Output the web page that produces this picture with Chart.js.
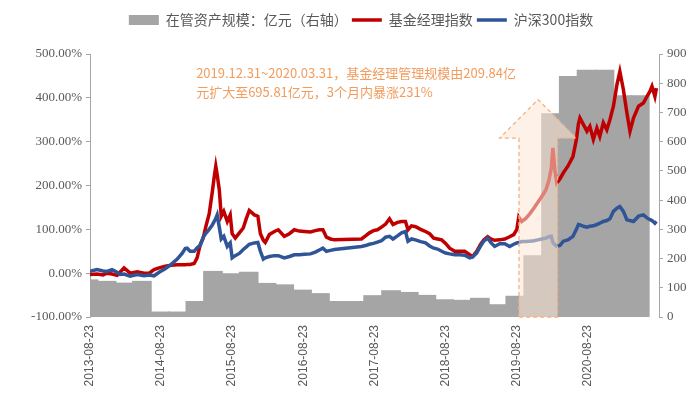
<!DOCTYPE html>
<html>
<head>
<meta charset="utf-8">
<script src="https://cdn.jsdelivr.net/npm/chart.js@4.4.0/dist/chart.umd.min.js"></script>
<style>
  html, body { margin: 0; padding: 0; background: #fff; }
</style>
</head>
<body>
<canvas id="myChart" width="700" height="397"></canvas>
<script>
// x axis tick labels (one per year)
const tickLabels = ['2013-08-23', '2014-08-23', '2015-08-23', '2016-08-23',
  '2017-08-23', '2018-08-23', '2019-08-23', '2020-08-23'];
const axisEnd = '2021-08-23';

// assets under management, 亿元, one bar per quarter (quarter end date)
const quarterEnds = ['2013-09-30', '2013-12-31', '2014-03-31', '2014-06-30', '2014-09-30', '2014-12-31',
  '2015-03-31', '2015-06-30', '2015-09-30', '2015-12-31', '2016-03-31', '2016-06-30', '2016-09-30',
  '2016-12-31', '2017-03-31', '2017-06-30', '2017-09-30', '2017-12-31', '2018-03-31', '2018-06-30',
  '2018-09-30', '2018-12-31', '2019-03-31', '2019-06-30', '2019-09-30', '2019-12-31', '2020-03-31',
  '2020-06-30', '2020-09-30', '2020-12-31', '2021-03-31', '2021-06-30'];
const aumValues = [127, 122, 116, 122, 17, 17, 53, 156, 148, 153, 115, 110, 92, 80, 53, 53,
  73, 90, 84, 74, 59, 57, 64, 42, 71, 209.84, 695.81, 823, 844, 844, 757, 757];

// index lines, cumulative return in %
const lineDates = ['2013-08-23', '2013-09-28', '2013-10-29', '2013-11-18', '2013-12-14', '2014-01-09',
  '2014-01-24', '2014-02-14', '2014-03-17', '2014-04-22', '2014-05-28', '2014-06-23', '2014-07-18',
  '2014-08-13', '2014-09-13', '2014-10-14', '2014-11-14', '2014-12-09', '2014-12-25', '2015-01-04',
  '2015-01-19', '2015-02-09', '2015-02-24', '2015-03-12', '2015-03-27', '2015-04-12', '2015-04-27',
  '2015-05-13', '2015-05-23', '2015-05-31', '2015-06-07', '2015-06-18', '2015-06-28', '2015-07-11',
  '2015-07-29', '2015-08-13', '2015-08-23', '2015-09-08', '2015-09-29', '2015-10-19', '2015-11-04',
  '2015-11-19', '2015-12-15', '2016-01-02', '2016-01-15', '2016-01-30', '2016-02-09', '2016-03-01',
  '2016-03-27', '2016-04-16', '2016-05-17', '2016-06-12', '2016-07-07', '2016-08-02', '2016-08-28',
  '2016-09-28', '2016-10-23', '2016-11-13', '2016-12-01', '2016-12-19', '2017-01-09', '2017-01-29',
  '2017-06-17', '2017-07-08', '2017-07-28', '2017-08-18', '2017-09-07', '2017-09-28', '2017-10-19',
  '2017-11-08', '2017-11-26', '2017-12-19', '2018-01-09', '2018-01-29', '2018-02-11', '2018-03-01',
  '2018-03-22', '2018-04-17', '2018-05-12', '2018-06-02', '2018-06-23', '2018-07-13', '2018-08-03',
  '2018-08-23', '2018-09-13', '2018-10-09', '2018-11-03', '2018-11-29', '2018-12-25', '2019-01-09',
  '2019-01-30', '2019-02-19', '2019-03-07', '2019-03-27', '2019-04-12', '2019-05-02', '2019-05-28',
  '2019-06-23', '2019-07-18', '2019-08-08', '2019-08-24', '2019-09-03', '2019-09-18', '2019-10-09',
  '2019-10-29', '2019-11-19', '2019-12-10', '2019-12-30', '2020-01-20', '2020-02-04', '2020-02-17',
  '2020-02-25', '2020-03-06', '2020-03-16', '2020-04-01', '2020-04-19', '2020-05-12', '2020-06-07',
  '2020-06-25', '2020-07-05', '2020-07-13', '2020-07-31', '2020-08-18', '2020-09-02', '2020-09-20',
  '2020-10-08', '2020-10-23', '2020-11-10', '2020-11-28', '2020-12-14', '2021-01-01', '2021-01-19',
  '2021-02-03', '2021-02-21', '2021-03-11', '2021-03-27', '2021-04-14', '2021-05-10', '2021-06-04',
  '2021-06-22', '2021-07-08', '2021-07-18', '2021-08-02', '2021-08-10'];
const managerIndex = [-3, -2, -4, 0, -2, -5, 2, 12, 0, 3, 0, 0, 8, 12, 16, 18, 19, 19, 19, 20,
  20, 22, 35, 65, 80, 110, 135, 185, 220, 244, 225, 190, 130, 141, 118, 133, 90, 80, 92, 103,
  125, 143, 133, 130, 90, 75, 70, 88, 95, 99, 84, 90, 99, 96, 95, 94, 97, 99, 99, 82,
  78, 76, 78, 85, 92, 97, 99, 105, 112, 124, 111, 116, 118, 118, 99, 108, 106, 100, 95, 90,
  80, 78, 76, 68, 57, 50, 50, 50, 42, 38, 50, 66, 76, 83, 78, 75, 76, 78, 83, 88,
  100, 128, 118, 125, 135, 148, 162, 175, 190, 210, 240, 286, 236, 206, 215, 229, 244, 266, 305, 340,
  354, 339, 324, 335, 305, 331, 312, 343, 327, 350, 381, 430, 460, 419, 366, 324, 354, 381, 388, 403,
  415, 426, 403, 422];
const hs300Index = [4, 8, 5, 4, 8, 2, -3, -2, -7, -3, -6, -4, -6, 2, 10, 20, 32, 45, 56, 57,
  50, 50, 58, 63, 82, 92, 100, 110, 118, 125, 133, 105, 78, 84, 61, 69, 35, 40, 45, 54,
  60, 66, 69, 70, 50, 32, 35, 38, 40, 40, 35, 38, 42, 42, 43, 44, 48, 53, 57, 50,
  52, 54, 61, 63, 66, 68, 71, 74, 82, 84, 78, 85, 92, 95, 73, 78, 76, 72, 69, 62,
  57, 55, 50, 46, 44, 42, 42, 41, 35, 37, 46, 62, 73, 80, 70, 61, 67, 67, 61, 66,
  69, 70, 72, 72, 73, 74, 76, 78, 80, 83, 84, 70, 65, 61, 63, 73, 76, 84, 100, 111,
  110, 107, 105, 107, 108, 111, 114, 118, 120, 124, 141, 148, 152, 141, 122, 120, 118, 130, 133, 126,
  122, 120, 114, 118];

const noteLines = ['2019.12.31~2020.03.31，基金经理管理规模由209.84亿',
  '元扩大至695.81亿元，3个月内暴涨231%'];

const startMs = Date.UTC(2013, 7, 23);
function dayOf(s) {
  const [y, m, d] = s.split('-').map(Number);
  return (Date.UTC(y, m - 1, d) - startMs) / 864e5;
}
function quarterMid(s) {
  // middle of the quarter that ends on s
  const [y, m] = s.split('-').map(Number);
  const from = (Date.UTC(y, m - 3, 1) - startMs) / 864e5;
  return (from + dayOf(s) + 1) / 2;
}

const textColor = '#595959';
const axisColor = '#A6A6A6';

// arrow + note drawn on top of the data
const arrowNote = {
  id: 'arrowNote',
  afterDatasetsDraw(chart) {
    const { ctx, scales: { x, y } } = chart;
    const px = s => x.getPixelForValue(dayOf(s));
    const left = px('2019-09-04'), right = px('2020-03-20');
    const headL = px('2019-05-28'), headR = px('2020-06-25'), tip = px('2019-12-11');
    const base = y.getPixelForValue(-100), shoulder = y.getPixelForValue(308), top = y.getPixelForValue(396);
    ctx.save();
    ctx.beginPath();
    ctx.moveTo(left, base);
    ctx.lineTo(left, shoulder);
    ctx.lineTo(headL, shoulder);
    ctx.lineTo(tip, top);
    ctx.lineTo(headR, shoulder);
    ctx.lineTo(right, shoulder);
    ctx.lineTo(right, base);
    ctx.closePath();
    ctx.fillStyle = 'rgba(251,229,214,0.55)';
    ctx.fill();
    ctx.setLineDash([4, 3]);
    ctx.strokeStyle = '#F4B183';
    ctx.lineWidth = 1.3;
    ctx.stroke();
    ctx.setLineDash([]);

    ctx.font = '13px "Noto Sans CJK SC"';
    ctx.fillStyle = '#F29C5E';
    ctx.textBaseline = 'middle';
    ctx.textAlign = 'left';
    const tx = px('2015-02-19');
    ctx.fillText(noteLines[0], tx, y.getPixelForValue(457));
    ctx.fillText(noteLines[1], tx, y.getPixelForValue(414));
    ctx.restore();
  }
};

// shift legend a little right, like the original
const legendShift = {
  id: 'legendShift',
  afterLayout(chart) {
    chart.legend.left += 11;
    chart.legend.right += 11;
  }
};

const canvas = document.getElementById('myChart');

new Chart(canvas, {
  data: {
    datasets: [{
      type: 'bar',
      label: '在管资产规模：亿元（右轴）',
      data: quarterEnds.map((d, i) => ({ x: quarterMid(d), y: aumValues[i] })),
      backgroundColor: '#A5A5A5',
      borderWidth: 0,
      barPercentage: 1.06,
      categoryPercentage: 1,
      inflateAmount: 0.5,
      pointStyle: 'rect',
      yAxisID: 'y1',
      order: 3
    }, {
      type: 'line',
      label: '基金经理指数',
      data: lineDates.map((d, i) => ({ x: dayOf(d), y: managerIndex[i] })),
      borderColor: '#C00000',
      backgroundColor: '#C00000',
      borderWidth: 3.5,
      pointRadius: 0,
      pointStyle: 'line',
      tension: 0,
      yAxisID: 'y',
      order: 2
    }, {
      type: 'line',
      label: '沪深300指数',
      data: lineDates.map((d, i) => ({ x: dayOf(d), y: hs300Index[i] })),
      borderColor: '#2F5597',
      backgroundColor: '#2F5597',
      borderWidth: 3.5,
      pointRadius: 0,
      pointStyle: 'line',
      tension: 0,
      yAxisID: 'y',
      order: 1
    }]
  },
  options: {
    responsive: false,
    devicePixelRatio: 1,
    animation: false,
    layout: { padding: { top: 9, left: 0, right: 0, bottom: 0 } },
    plugins: {
      tooltip: { enabled: false },
      legend: {
        position: 'top',
        reverse: true,
        labels: {
          usePointStyle: true,
          pointStyleWidth: 30,
          boxHeight: 10,
          padding: 4,
          color: textColor,
          font: { family: '"Noto Sans CJK SC"', size: 14 }
        }
      }
    },
    scales: {
      x: {
        type: 'linear',
        offset: false,
        min: 0,
        max: dayOf(axisEnd),
        afterBuildTicks: (scale) => {
          scale.ticks = tickLabels.map(s => ({ value: dayOf(s) }));
        },
        afterFit: (scale) => { scale.height = 80; },
        grid: { display: false, drawTicks: false, offset: false },
        border: { display: false },
        ticks: {
          autoSkip: false,
          maxRotation: 90,
          minRotation: 90,
          padding: 8,
          color: textColor,
          font: { family: '"Liberation Sans"', size: 12 },
          callback: (v, i) => tickLabels[i]
        }
      },
      y: {
        position: 'left',
        min: -100,
        max: 500,
        afterFit: (scale) => { scale.width = 90; },
        grid: { drawOnChartArea: false, drawTicks: true, tickLength: 4, color: axisColor },
        border: { display: true, color: axisColor },
        ticks: {
          stepSize: 100,
          padding: 4,
          color: textColor,
          font: { family: '"Liberation Serif"', size: 13 },
          callback: (v) => v.toFixed(2) + '%'
        }
      },
      y1: {
        position: 'right',
        min: 0,
        max: 900,
        afterFit: (scale) => { scale.width = 41; },
        grid: { drawOnChartArea: false, drawTicks: true, tickLength: 4, color: axisColor },
        border: { display: true, color: axisColor },
        ticks: {
          stepSize: 100,
          padding: 4,
          color: textColor,
          font: { family: '"Liberation Serif"', size: 13 }
        }
      }
    }
  },
  plugins: [arrowNote, legendShift, {
    id: 'legendHeight',
    beforeInit(chart) {
      const fit = chart.legend.fit;
      chart.legend.fit = function () {
        fit.call(this);
        this.height = 45;
      };
    }
  }]
});
</script>
</body>
</html>
